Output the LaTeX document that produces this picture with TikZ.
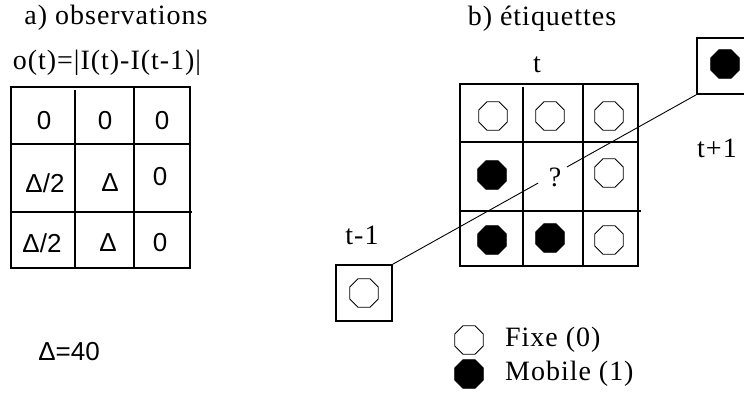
\documentclass[tikz,border=0pt]{standalone}
\usepackage{fontspec}
\setmainfont{Liberation Serif}
\newfontfamily\gridsans{Liberation Sans}
\usetikzlibrary{shapes.geometric}
\begin{document}
\begin{tikzpicture}[x=1pt,y=-1pt,
  gridline/.style={line width=1.6pt},
  oct/.style={regular polygon, regular polygon sides=8, minimum size=31pt, inner sep=0pt, line width=0.8pt, draw=black},
  fixe/.style={oct, fill=white},
  mobile/.style={oct, fill=black},
  lab/.style={font=\fontsize{28}{30}\selectfont\addfontfeature{LetterSpace=3.5}, inner sep=0pt},
  val/.style={font=\gridsans\fontsize{26}{28}\selectfont, inner sep=0pt},
  framebox/.style={draw, line width=1.6pt, minimum size=56pt, inner sep=0pt},
  link/.style={line width=0.9pt}
]
\useasboundingbox (0,0) rectangle (744,398);
\clip (0,0) rectangle (744,398);

% ---- a) observations
\node[lab] (ta) at (116,18) {a) observations};
\node[lab] (fo) at (107,63) {o(t)=|I(t)-I(t-1)|};
\draw[gridline] (11,87) rectangle (190,268);
\draw[gridline] (75,90) -- (75,268);
\draw[gridline] (134,87) -- (134,268);
\draw[gridline] (11,144) -- (190,144);
\draw[gridline] (11,212) -- (192,212);
\node[val] (l11) at (44,121) {0};
\node[val] (l12) at (105,121) {0};
\node[val] (l13) at (162,121) {0};
\node[val] (l21) at (45,183) {Δ/2};
\node[val] (l22) at (110,183) {Δ};
\node[val] (l23) at (160,177) {0};
\node[val] (l31) at (42,243) {Δ/2};
\node[val] (l32) at (108,243) {Δ};
\node[val] (l33) at (160,243) {0};
\node[val] (dv) at (69,352) {Δ=40};

% ---- b) etiquettes
\node[lab] (tb) at (542,19) {b) étiquettes};
\node[lab] (tt) at (537,65) {t};
\draw[gridline] (460,84) rectangle (638,266);
\draw[gridline] (523,87) -- (523,266);
\draw[gridline] (583,84) -- (583,266);
\draw[gridline] (460,142) -- (638,142);
\draw[gridline] (460,211) -- (641,211);
\node[fixe] (r11) at (493,116) {};
\node[fixe] (r12) at (550,116) {};
\node[fixe] (r13) at (609,116) {};
\node[mobile] (r21) at (492,175) {};
\node[fixe] (r23) at (609,173) {};
\node[mobile] (r31) at (492,240) {};
\node[mobile] (r32) at (550,238) {};
\node[fixe] (r33) at (609,240) {};
\node[lab] (qm) at (555,177) {?};

\node[framebox] (tm1) at (364,293) {};
\node[fixe] (c1) at (tm1.center) {};
\node[lab] (ltm1) at (362,235) {t-1};
\node[framebox] (tp1) at (725,66) {};
\node[mobile] (c2) at (725,64) {};
\node[lab] (ltp1) at (717,148) {t+1};

\path (tm1.north east) -- (tp1.south west)
  coordinate[pos=0.479] (g1) coordinate[pos=0.574] (g2);
\draw[link] (tm1.north east) -- (g1);
\draw[link] (g2) -- (tp1.south west);

% ---- legend
\node[fixe] (k1) at (469,340) {};
\node[mobile] (k2) at (469,374) {};
\node[lab, anchor=west] (kt1) at (505,340) {Fixe (0)};
\node[lab, anchor=west] (kt2) at (505,374) {Mobile (1)};
\end{tikzpicture}
\end{document}
